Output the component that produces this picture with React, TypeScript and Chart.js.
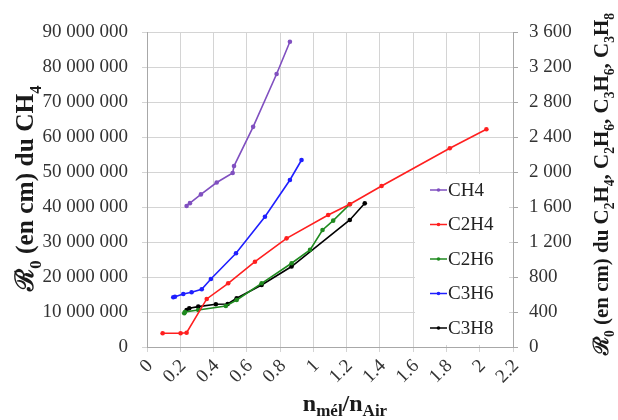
import React, { useEffect, useRef } from 'react';
import { Chart, registerables } from 'chart.js';

Chart.register(...registerables);

// ---- Data ----
const xTickValues = [0, 0.2, 0.4, 0.6, 0.8, 1, 1.2, 1.4, 1.6, 1.8, 2, 2.2];

const ch4X = [0.238, 0.258, 0.324, 0.419, 0.515, 0.523, 0.638, 0.779, 0.859];
const ch4Y = [40.3e6, 41.1e6, 43.6e6, 47.0e6, 49.7e6, 51.7e6, 62.9e6, 78.0e6, 87.2e6];

const c2h4X = [0.094, 0.202, 0.238, 0.359, 0.488, 0.649, 0.839, 1.089, 1.219, 1.41, 1.82, 2.04];
const c2h4Y = [157, 157, 163, 549, 728, 975, 1242, 1509, 1631, 1840, 2271, 2488];

const c2h6X = [0.224, 0.228, 0.308, 0.474, 0.539, 0.689, 0.869, 0.98, 1.055, 1.119, 1.219];
const c2h6Y = [385, 400, 423, 469, 537, 728, 957, 1110, 1337, 1444, 1631];

const c3h6X = [0.158, 0.168, 0.218, 0.268, 0.329, 0.384, 0.535, 0.709, 0.859, 0.929];
const c3h6Y = [568, 575, 606, 625, 660, 777, 1071, 1489, 1909, 2137];

const c3h8X = [0.238, 0.254, 0.308, 0.414, 0.485, 0.539, 0.689, 0.869, 1.219, 1.309];
const c3h8Y = [423, 442, 461, 488, 491, 557, 709, 920, 1452, 1642];

const seriesLabels = ['CH4', 'C2H4', 'C2H6', 'C3H6', 'C3H8'];
const seriesColors = ['#8050c0', '#ff1f1f', '#1f8a1f', '#1f1fff', '#000000'];

const FONT = '"Liberation Serif", "Times New Roman", serif';

type Seg = { t: string; sub?: boolean };

const leftTitle: Seg[] = [
  { t: 'ℛ' }, { t: '0', sub: true }, { t: ' (en cm) du CH' }, { t: '4', sub: true },
];
const rightTitle: Seg[] = [
  { t: 'ℛ' }, { t: '0', sub: true }, { t: ' (en cm) du C' }, { t: '2', sub: true }, { t: 'H' }, { t: '4', sub: true },
  { t: ', C' }, { t: '2', sub: true }, { t: 'H' }, { t: '6', sub: true },
  { t: ', C' }, { t: '3', sub: true }, { t: 'H' }, { t: '6', sub: true },
  { t: ', C' }, { t: '3', sub: true }, { t: 'H' }, { t: '8', sub: true },
];
const xTitle: Seg[] = [
  { t: 'n' }, { t: 'mél', sub: true }, { t: '/n' }, { t: 'Air', sub: true },
];

function fmtSpace(v: number) {
  return String(Math.round(v)).replace(/\B(?=(\d{3})+(?!\d))/g, ' ');
}

function segWidth(ctx: CanvasRenderingContext2D, segs: Seg[], size: number, subSize: number) {
  let w = 0;
  for (const s of segs) {
    ctx.font = `bold ${s.sub ? subSize : size}px ${FONT}`;
    w += ctx.measureText(s.t).width;
  }
  return w;
}

function drawSegs(
  ctx: CanvasRenderingContext2D, segs: Seg[], cx: number, cy: number,
  angle: number, size: number, subSize: number, subDrop: number
) {
  const total = segWidth(ctx, segs, size, subSize);
  ctx.save();
  ctx.translate(cx, cy);
  ctx.rotate(angle);
  ctx.fillStyle = '#1a1a1a';
  ctx.textBaseline = 'alphabetic';
  ctx.textAlign = 'left';
  let x = -total / 2;
  for (const s of segs) {
    ctx.font = `bold ${s.sub ? subSize : size}px ${FONT}`;
    ctx.fillText(s.t, x, s.sub ? subDrop : 0);
    x += ctx.measureText(s.t).width;
  }
  ctx.restore();
}

function drawFitted(
  ctx: CanvasRenderingContext2D, segs: Seg[], cx: number, cy: number,
  angle: number, targetWidth: number, subRatio: number
) {
  const base = 20;
  const size = base * targetWidth / segWidth(ctx, segs, base, base * subRatio);
  // cy/cx is the visual centre; baseline is shifted by ~1/3 of the size
  const ox = Math.sin(-angle) * size * 0.33;
  drawSegs(ctx, segs, cx + ox, cy, angle, size, size * subRatio, size * 0.28);
}

const titlesPlugin = {
  id: 'richTitles',
  afterDraw(chart: any) {
    const ctx = chart.ctx as CanvasRenderingContext2D;
    drawFitted(ctx, leftTitle, 25, 188, -Math.PI / 2, 205, 0.65);
    drawFitted(ctx, rightTitle, 601, 184, -Math.PI / 2, 342, 0.65);
    drawSegs(ctx, xTitle, 345, 411, 0, 24, 17, 5);
  },
};

const legendPlugin = {
  id: 'boxLegend',
  beforeDatasetsDraw(chart: any) {
    const ctx = chart.ctx as CanvasRenderingContext2D;
    ctx.save();
    ctx.fillStyle = '#ffffff';
    ctx.fillRect(415, 174, 94, 171);
    ctx.restore();
  },
  afterDatasetsDraw(chart: any) {
    const ctx = chart.ctx as CanvasRenderingContext2D;
    ctx.save();
    const ds = chart.data.datasets;
    for (let i = 0; i < ds.length; i++) {
      const y = 190 + i * 34.5;
      ctx.strokeStyle = ds[i].borderColor;
      ctx.lineWidth = 1.5;
      ctx.beginPath();
      ctx.moveTo(430, y);
      ctx.lineTo(447, y);
      ctx.stroke();
      ctx.fillStyle = ds[i].borderColor;
      ctx.beginPath();
      ctx.arc(438.5, y, 1.8, 0, Math.PI * 2);
      ctx.fill();
      ctx.fillStyle = '#222';
      ctx.font = `19px ${FONT}`;
      ctx.textBaseline = 'middle';
      ctx.textAlign = 'left';
      ctx.fillText(ds[i].label, 448, y + 1);
    }
    ctx.restore();
  },
};

function pts(xs: number[], ys: number[]) {
  return xs.map((x, i) => ({ x, y: ys[i] }));
}

export default function App() {
  const ref = useRef<HTMLCanvasElement | null>(null);
  useEffect(() => {
    document.body.style.margin = '0';
    const canvas = ref.current;
    if (!canvas) return;
    const seriesX = [ch4X, c2h4X, c2h6X, c3h6X, c3h8X];
    const seriesY = [ch4Y, c2h4Y, c2h6Y, c3h6Y, c3h8Y];
    const datasets = seriesLabels.map((label, i) => ({
      label,
      data: pts(seriesX[i], seriesY[i]),
      yAxisID: i === 0 ? 'y' : 'y1',
      borderColor: seriesColors[i],
      backgroundColor: seriesColors[i],
      borderWidth: 1.6,
      pointRadius: 2.3,
      pointBorderWidth: 0,
      pointHoverRadius: 2.3,
      tension: 0,
      fill: false,
      showLine: true,
    }));
    const chart = new Chart(canvas, {
      type: 'scatter',
      data: { datasets },
      plugins: [legendPlugin, titlesPlugin],
      options: {
        animation: false,
        responsive: false,
        layout: { padding: { top: 32, left: 0, right: 0, bottom: 0 } },
        plugins: { legend: { display: false }, tooltip: { enabled: false } },
        scales: {
          x: {
            type: 'linear',
            min: 0,
            max: 2.2,
            afterBuildTicks: (scale: any) => {
              scale.ticks = xTickValues.map((v) => ({ value: v }));
            },
            afterFit: (scale: any) => { scale.height = 73; },
            grid: { color: '#d4d4d4', tickLength: 5, drawTicks: true },
            border: { display: true, color: '#a8a8a8' },
            ticks: {
              minRotation: 45,
              maxRotation: 45,
              autoSkip: false,
              padding: 3,
              labelOffset: 3,
              color: '#333',
              font: { family: FONT, size: 19 },
              callback: (v: any) => String(Number(Number(v).toFixed(1))),
            },
          },
          y: {
            type: 'linear',
            position: 'left',
            min: 0,
            max: 90000000,
            afterFit: (scale: any) => { scale.width = 147; },
            grid: { color: '#d4d4d4', tickLength: 5, drawTicks: true },
            border: { display: true, color: '#a8a8a8' },
            ticks: {
              stepSize: 10000000,
              padding: 14,
              color: '#333',
              font: { family: FONT, size: 19 },
              callback: (v: any) => fmtSpace(Number(v)),
            },
          },
          y1: {
            type: 'linear',
            position: 'right',
            min: 0,
            max: 3600,
            afterFit: (scale: any) => { scale.width = 105; },
            grid: { drawOnChartArea: false, color: '#a8a8a8', tickLength: 5, drawTicks: true },
            border: { display: true, color: '#a8a8a8' },
            ticks: {
              stepSize: 400,
              padding: 11,
              color: '#333',
              font: { family: FONT, size: 19 },
              callback: (v: any) => fmtSpace(Number(v)),
            },
          },
        },
      },
    });
    return () => chart.destroy();
  }, []);
  return (
    <div style={{ width: 618, height: 420 }}>
      <canvas ref={ref} width={618} height={420} style={{ display: 'block' }} />
    </div>
  );
}
